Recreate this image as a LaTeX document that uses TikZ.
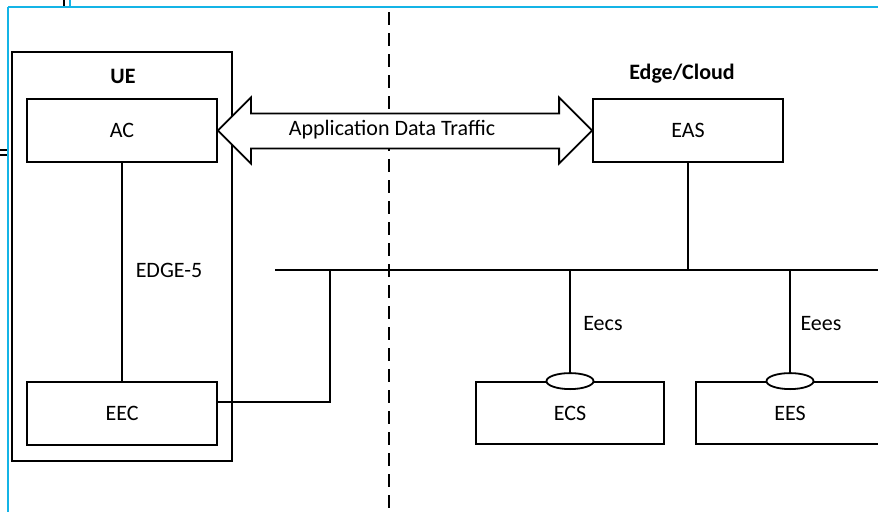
\documentclass[tikz,border=0pt]{standalone}
\usepackage{fontspec}
\setmainfont{Carlito}
\usetikzlibrary{calc,shapes.geometric}
\definecolor{frameblue}{RGB}{20,180,230}
\tikzset{
  x=1pt, y=-1pt,
  ln/.style={line width=1.8pt, black},
  box/.style={draw, line width=1.8pt, rectangle, inner sep=0pt, fill=white,
    font=\fontsize{22}{26}\selectfont},
  lbl/.style={inner sep=0pt, font=\fontsize{22}{26}\selectfont},
  blbl/.style={inner sep=0pt, font=\fontsize{22}{26}\selectfont\bfseries},
  port/.style={draw, line width=1.8pt, ellipse, fill=white, inner sep=0pt,
    minimum width=47pt, minimum height=16pt},
  arrowshape/.style={draw, line width=1.8pt, fill=white, line join=miter},
  divider/.style={line width=1.8pt, dash pattern=on 13pt off 8pt},
  frame/.style={line width=2pt, frameblue}
}
\begin{document}
\begin{tikzpicture}
\useasboundingbox (0,0) rectangle (878,512);
% outer frame fragments
\draw[frame] (8,7) -- (878,7);
\draw[frame] (8,7) -- (8,512);
\draw[line width=2pt] (64,0) -- (64,6);
\draw[frame] (70,0) -- (70,6);
\draw[line width=1.5pt] (0,150) -- (7,150);
\draw[line width=1.5pt] (0,155) -- (7,155);
% divider
\draw[divider] (389,12) -- (389,512);
% UE container
\node[box, fill=none, minimum width=220pt, minimum height=409pt] (UE) at (122,256.5) {};
\node[blbl] (UElbl) at (123,76) {UE};
\node[box, minimum width=190pt, minimum height=63pt] (AC) at (122,130.5) {AC};
\node[box, minimum width=190pt, minimum height=63pt] (EEC) at (122,413.5) {EEC};
\draw[ln] (AC.south) -- (EEC.north);
\node[lbl] (edge5) at (169,270) {EDGE-5};
% Edge/Cloud
\node[blbl] (EClbl) at (682,74) {Edge/Cloud};
\node[box, minimum width=190pt, minimum height=63pt] (EAS) at (688,130.5) {EAS};
% bus
\coordinate (busL) at (275,270);
\coordinate (busR) at (878,270);
\draw[ln] (busL) -- (busR);
\draw[ln] (EAS.south) -- (EAS.south |- busL);
\coordinate (eecbus) at (330,270);
\draw[ln] ($(EEC.east)+(0,-11.5)$) -| (eecbus);
% ECS / EES
\node[box, minimum width=188pt, minimum height=62pt] (ECS) at (570,413) {ECS};
\node[box, minimum width=188pt, minimum height=62pt] (EES) at (790,413) {EES};
\node[port] (ECSp) at (ECS.north) {};
\node[port] (EESp) at (EES.north) {};
\draw[ln] (ECSp.north) -- (ECSp.north |- busL);
\draw[ln] (EESp.north) -- (EESp.north |- busL);
\node[lbl] (eecs) at (603,324) {Eecs};
\node[lbl] (eees) at (821,324) {Eees};
% application data traffic double arrow
\draw[arrowshape] (AC.east) -- ++(33,-33) -- ++(0,16)
  -- ($(EAS.west)+(-33,-17)$) -- ++(0,-16) -- (EAS.west)
  -- ++(-33,33) -- ++(0,-15) -- ($(AC.east)+(33,18)$) -- ++(0,15) -- cycle;
\node[lbl] (adt) at (392,130) {Application Data Traffic};
\end{tikzpicture}
\end{document}
